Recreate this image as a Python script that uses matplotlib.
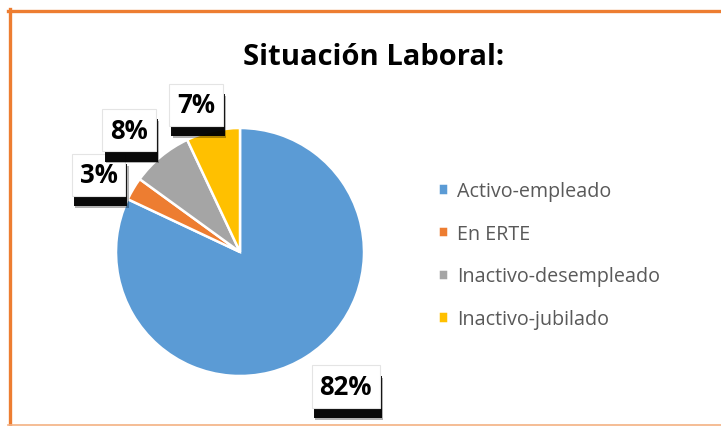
import matplotlib
matplotlib.use("Agg")
import matplotlib.pyplot as plt
import matplotlib.patheffects as pe
from matplotlib.lines import Line2D
import numpy as np

categories = ["Activo-empleado", "En ERTE", "Inactivo-desempleado", "Inactivo-jubilado"]
shares = [82, 3, 8, 7]
pct_labels = ["82%", "3%", "8%", "7%"]
colors = ["#5B9BD5", "#ED7D31", "#A5A5A5", "#FFC000"]

# label placement (radius in pie units, small angle tweak in degrees)
label_dist = [1.38, 1.30, 1.33, 1.24]
label_turn = [5.7, 2.0, 2.7, 4.1]

plt.rcParams['font.family'] = ['Open Sans', 'DejaVu Sans']

W, H = 721, 427
fig = plt.figure(figsize=(W / 100, H / 100), dpi=100)

# pie axes, centred at about (240, 253) px with radius ~124 px
ax = fig.add_axes([116 / W, 50 / H, 248 / W, 248 / H])
wedges, _ = ax.pie(shares, colors=colors, startangle=90, counterclock=False,
                   wedgeprops=dict(edgecolor='white', linewidth=1.8))
ax.set_xlim(-1, 1)
ax.set_ylim(-1, 1)

for w, lab, d, turn in zip(wedges, pct_labels, label_dist, label_turn):
    ang = np.deg2rad((w.theta1 + w.theta2) / 2 + turn)
    t = ax.text(d * np.cos(ang), d * np.sin(ang), lab, ha='center', va='center',
                fontsize=18.5, fontweight='bold', color='black',
                bbox=dict(boxstyle='square,pad=0.3', facecolor='white',
                          edgecolor='#E4E4E4', linewidth=0.8))
    t.get_bbox_patch().set_path_effects([
        pe.SimplePatchShadow(offset=(2.6, -8.8), shadow_rgbFace='black', alpha=0.3),
        pe.SimplePatchShadow(offset=(1.6, -7.4), shadow_rgbFace='black', alpha=0.95),
        pe.Normal()])

fig.text(374 / W, (H - 65) / H, "Situación Laboral:", ha='center', va='baseline',
         fontsize=21, fontweight='bold', color='black')

leg = fig.legend(wedges, categories, loc='center left', bbox_to_anchor=(438 / W, 171 / H),
                 frameon=False, fontsize=14.2, handlelength=0.5, handleheight=0.5,
                 handletextpad=0.45, labelspacing=1.15, borderpad=0, borderaxespad=0)
for txt in leg.get_texts():
    txt.set_color('#595959')

# orange frame (top, left and thin bottom line)
fig.add_artist(Line2D([8 / W, 1], [1 - 11.5 / H, 1 - 11.5 / H], color='#ED7D31', lw=2.4,
                      transform=fig.transFigure))
fig.add_artist(Line2D([9.5 / W, 9.5 / W], [0, 1 - 10 / H], color='#ED7D31', lw=2.4,
                      transform=fig.transFigure))
fig.add_artist(Line2D([8 / W, 1], [1.2 / H, 1.2 / H], color='#F4B183', lw=1.2,
                      transform=fig.transFigure))

fig.savefig("out.png", dpi=100)
